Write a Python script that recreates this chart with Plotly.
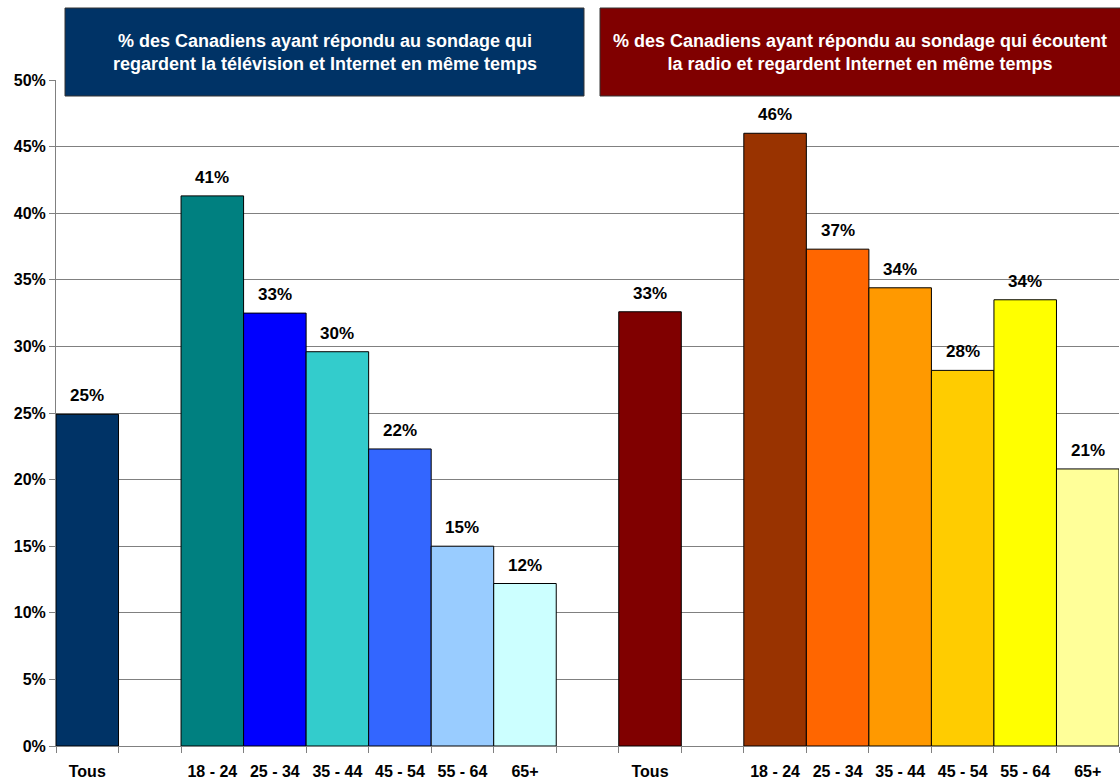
import plotly.graph_objects as go

# ---- data ----
tv_categories = ["Tous", "18 - 24", "25 - 34", "35 - 44", "45 - 54", "55 - 64", "65+"]
tv_values = [24.9, 41.3, 32.5, 29.6, 22.3, 15.0, 12.2]
tv_labels = ["25%", "41%", "33%", "30%", "22%", "15%", "12%"]
tv_colors = ["#003366", "#008080", "#0000FF", "#33CCCC", "#3366FF", "#99CCFF", "#CCFFFF"]

radio_categories = ["Tous", "18 - 24", "25 - 34", "35 - 44", "45 - 54", "55 - 64", "65+"]
radio_values = [32.6, 46.0, 37.3, 34.4, 28.2, 33.5, 20.8]
radio_labels = ["33%", "46%", "37%", "34%", "28%", "34%", "21%"]
radio_colors = ["#800000", "#993300", "#FF6600", "#FF9900", "#FFCC00", "#FFFF00", "#FFFF99"]

tv_title = "% des Canadiens ayant répondu au sondage qui<br>regardent la télévision et Internet en même temps"
radio_title = "% des Canadiens ayant répondu au sondage qui écoutent<br>la radio et regardent Internet en même temps"

y_ticks = [0, 5, 10, 15, 20, 25, 30, 35, 40, 45, 50]

# ---- layout positions (slot indices): Tous, gap, 6 age groups, gap ----
def slots(start):
    return [start] + [start + 2 + i for i in range(len(tv_categories) - 1)]

tv_x = slots(0)
radio_x = slots(9)
n_slots = radio_x[-1] + 1

FONT = "Liberation Sans, Arial, sans-serif"

FIG_W, FIG_H = 1120, 782

fig = go.Figure()
for xs, vals, cols in [(tv_x, tv_values, tv_colors), (radio_x, radio_values, radio_colors)]:
    fig.add_trace(go.Bar(
        x=xs, y=vals, width=1.0,
        marker=dict(color=cols, line=dict(color="#000000", width=1)),
        showlegend=False, hoverinfo="skip",
    ))

for xs, vals, labs in [(tv_x, tv_values, tv_labels), (radio_x, radio_values, radio_labels)]:
    for x, v, t in zip(xs, vals, labs):
        fig.add_annotation(x=x, y=v, text=f"<b>{t}</b>", showarrow=False,
                           yanchor="bottom", yshift=7,
                           font=dict(family=FONT, size=17, color="#000000"))

# plot area in page pixels
plot_l, plot_r, plot_t, plot_b = 56, 1119, 80, 746
W = plot_r - plot_l
H = plot_b - plot_t
def px(x):
    return (x - plot_l) / W
def py(y):
    return (plot_b - y) / H

for (x0, x1, fill, text) in [(65, 584, "#003366", tv_title), (600, 1125, "#800000", radio_title)]:
    fig.add_shape(type="rect", xref="paper", yref="paper",
                  x0=px(x0), x1=px(x1), y0=py(96), y1=py(8),
                  fillcolor=fill, line=dict(color="#333333", width=1), layer="above")
    fig.add_annotation(xref="paper", yref="paper", x=px((x0 + min(x1, 1120)) / 2), y=py(52),
                       text=f"<b>{text}</b>", showarrow=False, xanchor="center", yanchor="middle",
                       font=dict(family=FONT, size=18, color="#FFFFFF"))

tick_x = tv_x + radio_x
tick_text = [f"<b>{c}</b>" for c in tv_categories + radio_categories]

fig.update_layout(
    width=FIG_W, height=FIG_H,
    margin=dict(l=plot_l, r=FIG_W - plot_r, t=plot_t, b=FIG_H - plot_b),
    paper_bgcolor="#FFFFFF", plot_bgcolor="#FFFFFF",
    bargap=0,
    font=dict(family=FONT, size=16, color="#000000"),
    xaxis=dict(
        range=[-0.5, n_slots - 0.5],
        tickmode="array", tickvals=tick_x, ticktext=tick_text,
        ticks="", showgrid=False, zeroline=False,
        showline=True, linecolor="#808080", linewidth=1,
        tickfont=dict(family=FONT, size=16, color="#000000"),
        ticklabelstandoff=11,
        minor=dict(tickmode="array", tickvals=[i - 0.5 for i in range(n_slots + 1)],
                   ticks="outside", ticklen=6, tickcolor="#808080", showgrid=False),
    ),
    yaxis=dict(
        range=[0, 50],
        tickmode="array", tickvals=y_ticks, ticktext=[f"<b>{v}%</b>" for v in y_ticks],
        ticks="outside", ticklen=6, tickcolor="#808080",
        showgrid=True, gridcolor="#808080", gridwidth=1,
        zeroline=False, showline=True, linecolor="#808080", linewidth=1,
        tickfont=dict(family=FONT, size=16, color="#000000"),
    ),
)

fig.write_html("out.html",
               config={"displayModeBar": False, "staticPlot": True},
               post_script="document.body.style.margin='0';document.body.style.overflow='hidden';")
